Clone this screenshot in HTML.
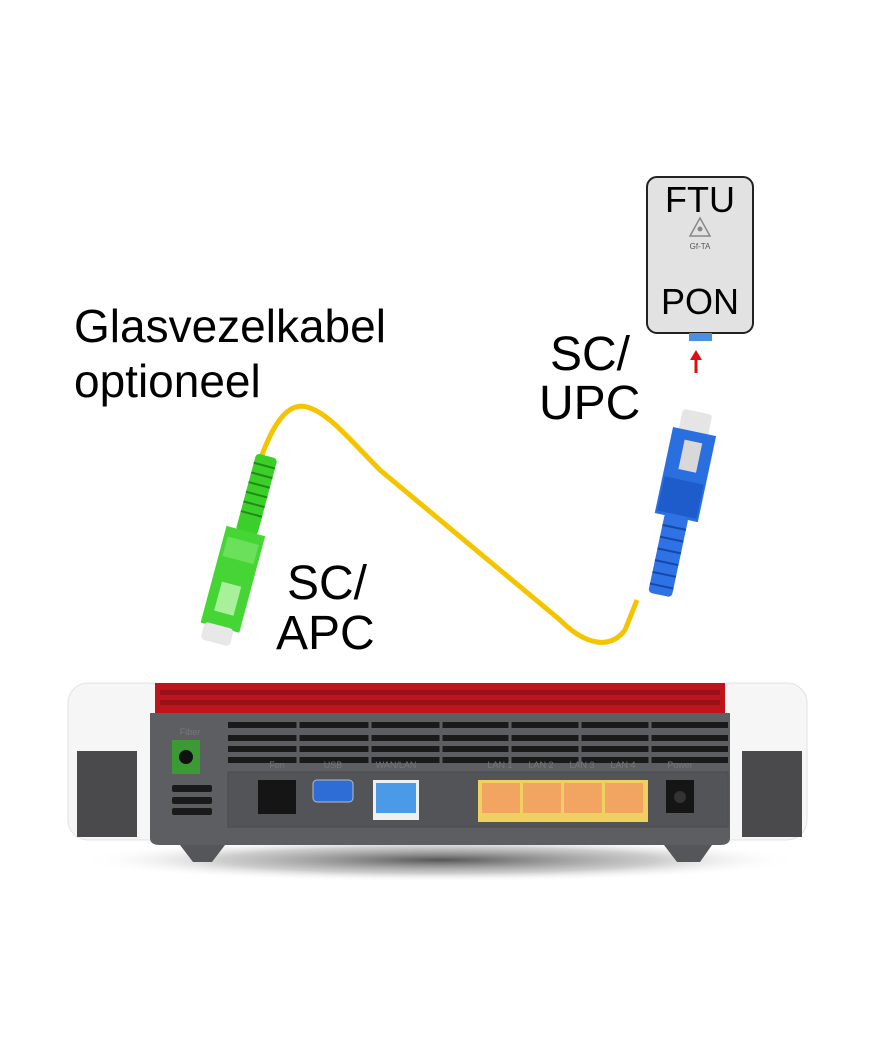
<!DOCTYPE html>
<html><head><meta charset="utf-8"><style>
html,body{margin:0;padding:0;background:#fff;}
svg{display:block}
text{font-family:"Liberation Sans",Arial,sans-serif;}
</style></head><body>
<svg width="880" height="1056" viewBox="0 0 880 1056" xmlns="http://www.w3.org/2000/svg">
<defs>
<radialGradient id="sh" cx="0.5" cy="0.5" r="0.5"><stop offset="0" stop-color="#555"/><stop offset="0.6" stop-color="#aaa" stop-opacity="0.6"/><stop offset="1" stop-color="#fff" stop-opacity="0"/></radialGradient>
</defs>
<!-- labels -->
<text x="74" y="342" font-size="46">Glasvezelkabel</text>
<text x="74" y="397" font-size="46">optioneel</text>
<text x="550" y="370" font-size="48">SC/</text>
<text x="539" y="419" font-size="48">UPC</text>
<text x="287" y="599" font-size="48">SC/</text>
<text x="276" y="649" font-size="48">APC</text>
<!-- FTU -->
<rect x="647" y="177" width="106" height="156" rx="10" fill="#e2e2e2" stroke="#222" stroke-width="2"/>
<text x="700" y="212" font-size="36" text-anchor="middle">FTU</text>
<polygon points="700,218 690,236 710,236" fill="none" stroke="#888" stroke-width="1.5"/>
<circle cx="700" cy="229" r="2.5" fill="#888"/>
<text x="700" y="249" font-size="8" text-anchor="middle" fill="#555">Gf-TA</text>
<text x="700" y="314" font-size="36" text-anchor="middle">PON</text>
<rect x="689" y="333" width="23" height="8" fill="#4a90e2"/>
<line x1="696" y1="373" x2="696" y2="358" stroke="#e01010" stroke-width="3"/>
<polygon points="696,350 690,360 702,360" fill="#e01010"/>
<!-- cable -->
<path d="M262,455 C275,420 290,400 310,408 C330,415 350,440 380,470 L560,620 C585,645 610,650 625,630 L637,600" fill="none" stroke="#f5c400" stroke-width="5"/>
<!-- green connector -->
<g transform="rotate(15 240 545)">
<rect x="232" y="452" width="22" height="80" rx="4" fill="#3bcf2a"/>
<g stroke="#238a15" stroke-width="2">
<line x1="232" y1="462" x2="254" y2="462"/><line x1="232" y1="472" x2="254" y2="472"/><line x1="232" y1="482" x2="254" y2="482"/><line x1="232" y1="492" x2="254" y2="492"/><line x1="232" y1="502" x2="254" y2="502"/><line x1="232" y1="512" x2="254" y2="512"/>
</g>
<rect x="222" y="530" width="40" height="100" fill="#45d635"/>
<rect x="226" y="540" width="32" height="20" fill="#6be05a"/>
<rect x="232" y="585" width="20" height="30" fill="#a8f09a"/>
<rect x="226" y="628" width="30" height="18" rx="4" fill="#e8e8e8"/>
</g>
<!-- blue connector -->
<g transform="rotate(12 680 500)">
<rect x="664" y="410" width="30" height="22" rx="3" fill="#e5e5e5"/>
<rect x="658" y="430" width="44" height="88" fill="#2a6fe0"/>
<rect x="672" y="440" width="18" height="30" fill="#d8d8d8"/>
<rect x="660" y="480" width="40" height="35" fill="#1e5ccc"/>
<rect x="668" y="515" width="24" height="82" rx="4" fill="#2f72e6"/>
<g stroke="#1548a8" stroke-width="2">
<line x1="668" y1="528" x2="692" y2="528"/><line x1="668" y1="540" x2="692" y2="540"/><line x1="668" y1="552" x2="692" y2="552"/><line x1="668" y1="564" x2="692" y2="564"/><line x1="668" y1="576" x2="692" y2="576"/><line x1="668" y1="588" x2="692" y2="588"/>
</g>
</g>
<!-- router shadow -->
<ellipse cx="440" cy="860" rx="360" ry="22" fill="url(#sh)"/>
<!-- white ends -->
<rect x="68" y="683" width="100" height="157" rx="20" fill="#f6f6f6" stroke="#e2e2e2"/>
<rect x="712" y="683" width="95" height="157" rx="20" fill="#f6f6f6" stroke="#e2e2e2"/>
<rect x="77" y="751" width="60" height="86" fill="#4a4a4c"/>
<rect x="742" y="751" width="60" height="86" fill="#4a4a4c"/>
<!-- red top -->
<rect x="155" y="683" width="570" height="30" fill="#c0141c"/>
<rect x="160" y="690" width="560" height="5" fill="#98101a"/>
<rect x="160" y="700" width="560" height="5" fill="#98101a"/>
<!-- body -->
<path d="M150,713 H730 V838 Q730,845 720,845 H160 Q150,845 150,838 Z" fill="#5d5e62"/>
<!-- feet -->
<path d="M180,845 H225 L212,862 H193 Z" fill="#55565a"/>
<path d="M664,845 H712 L700,862 H677 Z" fill="#55565a"/>
<!-- grille -->
<g fill="#1a1a1a">
<rect x="228" y="722" width="500" height="6"/>
<rect x="228" y="735" width="500" height="6"/>
<rect x="228" y="746" width="500" height="6"/>
<rect x="228" y="757" width="500" height="6"/>
</g>
<g stroke="#5d5e62" stroke-width="3">
<line x1="298" y1="720" x2="298" y2="765"/><line x1="370" y1="720" x2="370" y2="765"/><line x1="441" y1="720" x2="441" y2="765"/><line x1="510" y1="720" x2="510" y2="765"/><line x1="580" y1="720" x2="580" y2="765"/><line x1="650" y1="720" x2="650" y2="765"/>
</g>
<!-- fiber port -->
<text x="190" y="735" font-size="9" fill="#777" text-anchor="middle">Fiber</text>
<rect x="172" y="740" width="28" height="34" fill="#3c9a35"/>
<circle cx="186" cy="757" r="7" fill="#111"/>
<g fill="#1a1a1a"><rect x="172" y="785" width="40" height="7" rx="2"/><rect x="172" y="797" width="40" height="7" rx="2"/><rect x="172" y="808" width="40" height="7" rx="2"/></g>
<!-- port panel -->
<rect x="228" y="772" width="500" height="55" fill="#535458" stroke="#4a4b4f"/>
<rect x="258" y="780" width="38" height="34" fill="#151515"/>
<rect x="313" y="780" width="40" height="22" rx="4" fill="#2f6dd6" stroke="#bbb"/>
<rect x="373" y="780" width="46" height="40" fill="#f0f0f0"/>
<rect x="376" y="783" width="40" height="30" fill="#4a9ae8"/>
<rect x="478" y="780" width="170" height="42" fill="#f0d060"/>
<rect x="482" y="783" width="38" height="30" fill="#f2a560"/>
<rect x="523" y="783" width="38" height="30" fill="#f2a560"/>
<rect x="564" y="783" width="38" height="30" fill="#f2a560"/>
<rect x="605" y="783" width="38" height="30" fill="#f2a560"/>
<rect x="666" y="780" width="28" height="33" fill="#151515"/>
<circle cx="680" cy="797" r="6" fill="#333"/>
<g font-size="9" fill="#777" text-anchor="middle">
<text x="277" y="768">Fon</text><text x="333" y="768">USB</text><text x="396" y="768">WAN/LAN</text>
<text x="500" y="768">LAN 1</text><text x="541" y="768">LAN 2</text><text x="582" y="768">LAN 3</text><text x="623" y="768">LAN 4</text><text x="680" y="768">Power</text>
</g>
</svg>
</body></html>
